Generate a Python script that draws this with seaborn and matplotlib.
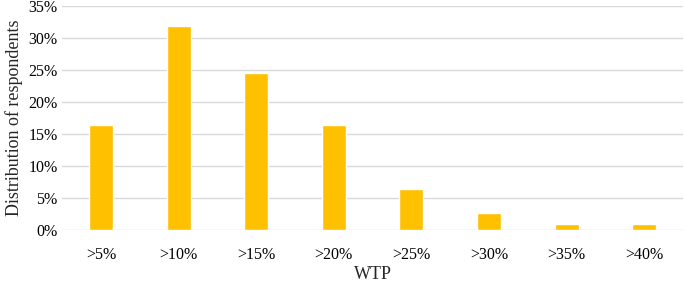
import numpy as np
import pandas as pd
import seaborn as sns
import matplotlib.pyplot as plt
from matplotlib.ticker import PercentFormatter

sns.set_style('white')
plt.rcParams['font.family'] = ['Liberation Serif', 'DejaVu Serif']

# WTP categories and share of respondents (%)
categories = ['>5%', '>10%', '>15%', '>20%', '>25%', '>30%', '>35%', '>40%']
shares = [16.4, 31.8, 24.5, 16.4, 6.4, 2.7, 0.9, 0.9]

data = pd.DataFrame({'WTP': categories, 'share': shares})

fig = plt.figure(figsize=(6.85, 2.82), dpi=100)
ax = fig.add_axes([0.091, 0.184, 0.906, 0.795])

sns.barplot(data=data, x='WTP', y='share', color='#FFC000', width=0.31,
            saturation=1, ax=ax, zorder=3)

ax.set_ylim(0, 35)
ax.set_yticks(np.arange(0, 36, 5))
ax.yaxis.set_major_formatter(PercentFormatter(decimals=0))
ax.grid(axis='y', color='#D9D9D9', linewidth=1, zorder=0)
ax.set_xlim(-0.5, len(categories) - 0.5)

for spine in ax.spines.values():
    spine.set_visible(False)
ax.tick_params(axis='both', length=0, labelsize=11.5, colors='black')
ax.tick_params(axis='x', pad=12)

ax.set_xlabel('WTP', fontsize=13, labelpad=2)
ax.set_ylabel('Distribution of respondents', fontsize=13, labelpad=4)

fig.savefig('out.png', dpi=100)
